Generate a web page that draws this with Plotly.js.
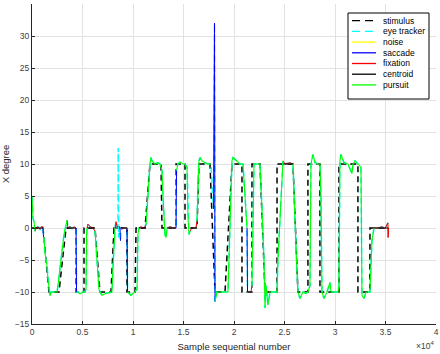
<!DOCTYPE html>
<html>
<head>
<meta charset="utf-8">
<script src="https://cdn.plot.ly/plotly-3.0.1.min.js"></script>
<style>
  html, body { margin: 0; padding: 0; background: #fff; }
  #graph { width: 440px; height: 354px; }
</style>
</head>
<body>
<div id="graph"></div>
<script>
// stimulus target position (sample, degree)
var stimX = [0,1090,1680,2670,3370,4360,4360,5150,5150,6240,6730,7820,8120,9400,9400,10200,10300,11190,11680,12770,12870,14260,14260,15150,15150,16340,16530,17620,18120,19110,19800,20790,20790,21780,21780,22570,23070,24260,24260,25840,26330,27320,27320,28510,28510,30390,30390,32270,32270,33460,33460,35240];
var stimY = [0,0,-10,-10,0,0,-10,-10,0,0,-10,-10,0,0,-10,-10,0,0,10,10,0,0,10,10,0,0,10,10,-10,-10,10,10,-10,-10,10,10,-10,-10,10,10,-10,-10,10,10,-10,-10,10,10,-10,-10,0,0];

// raw eye tracker signal
var eyeX = [0,100,200,300,400,590,790,990,1090,
  1140,1190,1290,1490,1580,1680,1780,1880,2080,2480,2570,2770,2970,3170,3370,3470,3560,3760,3960,4160,4360,
  4410,4550,4750,5050,5250,5350,
  5400,5450,5540,5740,6040,6240,
  6340,6440,6530,6630,6730,6930,7330,7720,7920,8020,8120,8220,8320,8420,8510,
  8540,8570,
  8610,8710,8760,8810,9110,9410,
  9460,9600,9800,10200,10400,
  10490,10590,10790,11090,11290,
  11390,11580,11680,11780,11880,12180,12470,12670,12870,12970,13070,13170,13270,13370,
  13660,13960,14260,
  14310,14450,14650,14950,15150,15350,
  15440,15540,15640,15840,16240,16340,
  16430,16530,16630,16830,17130,17420,17720,
  17970,18070,18120,
  18220,18320,18610,19010,19400,19500,19600,19700,19800,19900,20200,20590,20890,21090,21290,
  21340,21480,21680,21780,
  21880,21980,22280,22570,22770,22970,23070,23170,23270,23360,23560,24060,24260,24350,24550,24750,24850,
  25050,25540,25840,
  25940,26140,26330,26530,26830,27130,27320,27520,27620,27820,28020,28310,28510,28610,28710,28910,29210,29500,29600,30000,30290,30390,30490,30590,30890,31280,31680,31780,31980,32270,32570,32670,32870,33070,33460,33560,33660,33760,33860,
  34250,34650,34950,35240,35260,35300];
var eyeY = [5,1.5,1,-0.5,0,0.2,-0.2,0.3,0,
  -1.4,-1.6,-4,-6,-8,-9,-10.6,-10,-10,-10,-9,-6,-3,-1,0.5,1.2,0,0.2,-0.1,0.2,0,
  -10,-10,-10.3,-10,-10,-9.5,
  -1,0,0.6,0.2,0,-0.5,
  -3,-5,-8,-9.5,-10,-10.5,-10.2,-10,-10,-6,-2,0,1,0.2,0.3,
  12.5,-1.5,
  0.3,0,-2,-0.2,0,0,
  -10,-10.2,-10.5,-10,-9.5,
  -1,0,0.2,0,0.5,
  3,8,10,11,10.5,10,10.2,10,9,5,1,-1.2,-1.5,0,
  0.2,0,0,
  9,10,10.3,10,10,9.5,
  2,-1,-0.5,0,0,1,
  8,10.5,11,10.5,10.2,10,10,
  3,32,-11.5,
  -10.5,-10,-10,-10,-10,-5,0,6,10.5,11,10.5,10,10,5,0,
  -10,-10,-10,-9,
  5,10,10,10,3,-5,-12.5,-9,-10.5,-12,-10,-10,-10,-5,2,8,10.5,
  10,10.2,10,
  5,-3,-10,-11,-10,-10.2,-10,-9,10,11.5,10.2,10,10,5,-10,-11,-10,-8.5,-10,-10,-10,-9,10.5,11.5,10.2,10,8.5,10,10.5,10,9.5,-10.5,-11,-10,-10,-6,-2,-1,0,
  0,0.2,-0.1,0.8,-1.5,0];

// classified windows (sample ranges)
var sacStart = [1090,4360,8710,9410,14260,17970,21290];
var sacEnd   = [1140,4410,8760,9460,14310,18120,21340];
var fixStart = [300,3470,5450,8220,8610,8810,10590,13370,15640,21340,24850,33860];
var fixEnd   = [1090,4360,6240,8510,8710,9410,11290,14260,16340,21780,25840,35300];
var fixLevel = [0,0,0,0,0,0,0,0,0,-10,10,0];
var purStart = [0,1140,4410,6240,9460,11290,14310,16340,18120,21780,25840];
var purEnd   = [300,3470,5450,8220,10590,13370,15640,17720,21290,24850,33860];

function pick(starts, ends) {
  var x = [], y = [];
  for (var k = 0; k < starts.length; k++) {
    for (var i = 0; i < eyeX.length; i++) {
      if (eyeX[i] >= starts[k] && eyeX[i] <= ends[k]) {
        x.push(eyeX[i]);
        y.push(eyeY[i]);
      }
    }
    x.push(null); y.push(null);
  }
  return {x: x, y: y};
}

var sac = pick(sacStart, sacEnd);
var fix = pick(fixStart, fixEnd);
var pur = pick(purStart, purEnd);

var cenX = [], cenY = [];
for (var k = 0; k < fixStart.length; k++) {
  cenX.push(fixStart[k], fixEnd[k], null);
  cenY.push(fixLevel[k], fixLevel[k], null);
}

var names = ['stimulus','eye tracker','noise','saccade','fixation','centroid','pursuit'];
var colors = ['#000000','#00ffff','#ffff00','#0000ff','#ff0000','#000000','#00ff00'];
var dashes = ['6px,4px','6px,4px','solid','solid','solid','solid','solid'];
var widths = [1.5,1.5,1,1,1,1,1.1];
var xs = [stimX, eyeX, [null], sac.x, fix.x, cenX, pur.x];
var ys = [stimY, eyeY, [null], sac.y, fix.y, cenY, pur.y];

var traces = [];
for (var i = 0; i < names.length; i++) {
  traces.push({
    x: xs[i], y: ys[i], name: names[i],
    type: 'scatter', mode: 'lines',
    line: {color: colors[i], width: widths[i], dash: dashes[i]},
    connectgaps: false, hoverinfo: 'skip'
  });
}

// legend drawn as a box in paper coordinates (pixel -> paper)
function px(p) { return (p - 32) / 404; }
function py(p) { return (324 - p) / 320; }
var shapes = [{
  type: 'rect', xref: 'paper', yref: 'paper',
  x0: px(348), x1: px(429), y0: py(99), y1: py(13),
  fillcolor: '#ffffff', line: {color: '#000000', width: 1}
}];
var annotations = [];
for (var i = 0; i < names.length; i++) {
  var ly = 20.7 + i * 10.7;
  shapes.push({
    type: 'line', xref: 'paper', yref: 'paper',
    x0: px(352), x1: px(376), y0: py(ly), y1: py(ly),
    line: {color: colors[i], width: 1.3, dash: i < 2 ? '8px,5px' : 'solid'}
  });
  annotations.push({
    xref: 'paper', yref: 'paper', x: px(381), y: py(ly),
    xanchor: 'left', yanchor: 'middle', showarrow: false,
    text: names[i], font: {size: 8.5, color: '#000000'}
  });
}
annotations.push({
  xref: 'paper', yref: 'paper', x: 1.0, y: py(345),
  xanchor: 'right', yanchor: 'middle', showarrow: false,
  text: '\u00d710<sup>4</sup>', font: {size: 8.5, color: '#404040'}
});

var layout = {
  width: 440, height: 354,
  margin: {l: 32, r: 4, t: 4, b: 30},
  paper_bgcolor: '#ffffff', plot_bgcolor: '#ffffff',
  font: {family: 'Liberation Sans, Arial, sans-serif', size: 8, color: '#404040'},
  showlegend: false,
  xaxis: {
    range: [0, 40000],
    tickvals: [0,5000,10000,15000,20000,25000,30000,35000,40000],
    ticktext: ['0','0.5','1','1.5','2','2.5','3','3.5','4'],
    showgrid: true, gridcolor: '#e2e2e2', zeroline: false,
    showline: true, linecolor: '#262626', linewidth: 1,
    ticks: 'inside', ticklen: 3, tickcolor: '#262626',
    tickfont: {size: 8.5, color: '#404040'},
    title: {text: 'Sample sequential number', font: {size: 9.5, color: '#262626'}, standoff: 7}
  },
  yaxis: {
    range: [-15, 35], dtick: 5, tick0: 0,
    showgrid: true, gridcolor: '#e2e2e2', zeroline: false,
    showline: true, linecolor: '#262626', linewidth: 1,
    ticks: 'inside', ticklen: 3, tickcolor: '#262626',
    tickfont: {size: 8.5, color: '#404040'},
    title: {text: 'X degree', font: {size: 9.5, color: '#262626'}, standoff: 5}
  },
  shapes: shapes,
  annotations: annotations
};

Plotly.newPlot('graph', traces, layout, {displayModeBar: false, staticPlot: true});
</script>
</body>
</html>
